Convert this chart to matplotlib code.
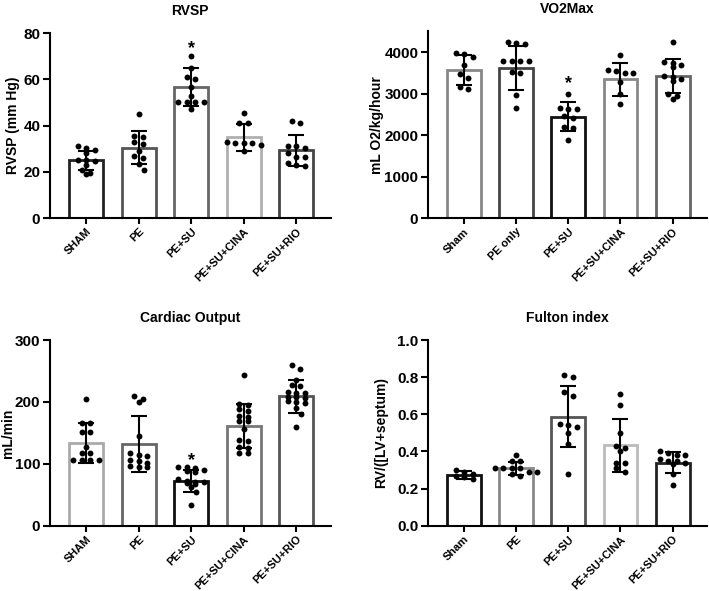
import numpy as np
import matplotlib
matplotlib.use("Agg")
import matplotlib.pyplot as plt

plt.rcParams["font.family"] = ["Liberation Sans", "DejaVu Sans"]
plt.rcParams["font.weight"] = "bold"
plt.rcParams["axes.labelweight"] = "bold"
plt.rcParams["axes.titleweight"] = "bold"

# ---- RVSP ----
rvsp_labels = ["SHAM", "PE", "PE+SU", "PE+SU+CINA", "PE+SU+RIO"]
rvsp_mean = [25, 30.5, 56.5, 35, 29.3]
rvsp_sd = [4.2, 7.0, 8.2, 5.8, 6.7]
rvsp_pts = [
    [31, 30.5, 29.5, 28, 25.3, 25.3, 24.8, 23, 21, 19, 19.5],
    [45, 35.5, 35, 33, 32, 29, 27, 26, 23.5, 21],
    [70, 65, 61, 60, 56.5, 53, 50, 50, 50, 50, 47],
    [45.5, 41, 41, 32.5, 32.5, 32.5, 33, 31.5, 29],
    [42, 41, 31, 31, 30.5, 28, 26.5, 26.5, 24, 22.5, 23],
]

# ---- VO2Max ----
vo2_labels = ["Sham", "PE only", "PE+SU", "PE+SU+CINA", "PE+SU+RIO"]
vo2_mean = [3570, 3610, 2440, 3340, 3430]
vo2_sd = [355, 530, 350, 390, 410]
vo2_pts = [
    [3970, 3960, 3880, 3680, 3470, 3380, 3150, 3100],
    [4250, 4230, 4190, 3780, 3780, 3780, 3780, 3520, 3490, 2970, 2650],
    [2980, 2660, 2640, 2620, 2470, 2420, 2200, 2170, 1870],
    [3920, 3560, 3550, 3500, 3490, 3280, 2980, 2740],
    [4240, 3760, 3730, 3700, 3650, 3420, 3400, 3350, 3300, 3000, 2930, 2870],
]

# ---- Cardiac Output ----
co_labels = ["SHAM", "PE", "PE+SU", "PE+SU+CINA", "PE+SU+RIO"]
co_mean = [134, 132, 72, 161, 209]
co_sd = [32, 45, 18, 35, 27]
co_pts = [
    [205, 166, 166, 151, 152, 128, 117, 118, 106, 106, 106, 106],
    [210, 205, 200, 145, 117, 115, 112, 106, 104, 102, 96, 95, 95],
    [95, 95, 94, 90, 88, 87, 76, 72, 70, 70, 69, 68, 62, 55, 33],
    [243, 196, 195, 188, 186, 177, 176, 170, 169, 157, 138, 137, 128, 126, 118, 117],
    [260, 254, 235, 227, 226, 216, 215, 214, 208, 206, 208, 200, 199, 201, 190, 180, 160],
]

# ---- Fulton index ----
fi_labels = ["Sham", "PE", "PE+SU", "PE+SU+CINA", "PE+SU+RIO"]
fi_mean = [0.275, 0.31, 0.587, 0.434, 0.34]
fi_sd = [0.022, 0.035, 0.165, 0.143, 0.055]
fi_pts = [
    [0.30, 0.29, 0.28, 0.27, 0.26, 0.25],
    [0.38, 0.35, 0.35, 0.31, 0.31, 0.31, 0.31, 0.29, 0.29, 0.28, 0.27],
    [0.80, 0.81, 0.72, 0.70, 0.55, 0.54, 0.53, 0.50, 0.44, 0.28],
    [0.71, 0.65, 0.50, 0.43, 0.42, 0.40, 0.34, 0.34, 0.31, 0.29],
    [0.40, 0.39, 0.38, 0.38, 0.36, 0.35, 0.35, 0.34, 0.33, 0.28, 0.22],
]


def swarm(ax, xc, ys, step, tol=4.0):
    # group points of (almost) equal height into rows and center each row
    tr = ax.transData
    ypx = np.array([tr.transform((xc, y))[1] for y in ys])
    pxx = tr.transform((xc + 1, 0))[0] - tr.transform((xc, 0))[0]
    order = np.argsort(-ypx)
    xs = np.zeros(len(ys))
    rows = []
    for i in order:
        if rows and abs(ypx[rows[-1][0]] - ypx[i]) < tol:
            rows[-1].append(i)
        else:
            rows.append([i])
    prev = None
    for row in rows:
        n = len(row)
        shift = 0.0
        # stagger single dots that sit right under another single dot
        if prev is not None and n == 1 and prev[1] == 1 and abs(prev[0] - ypx[row[0]]) < step * 0.8:
            shift = 0.6 if prev[2] <= 0 else -0.6
        for j, i in enumerate(row):
            xs[i] = xc + (j - (n - 1) / 2 + shift) * step / pxx
        prev = (ypx[row[0]], n, shift)
    return xs


def panel(rect, labels, means, sds, pts, edges, ylim, yticks, ylabel, title,
          labx, star=None, fmt=None):
    ax = fig.add_axes(rect)
    x = np.arange(len(labels))
    ax.set_xlim(-0.69, 4.66)
    ax.set_ylim(*ylim)
    ax.bar(x, means, 0.65, color="white", edgecolor=edges, linewidth=2, zorder=1)
    for i in range(len(labels)):
        xs = swarm(ax, x[i], pts[i], 8.5)
        ax.scatter(xs, pts[i], s=18, color="black", zorder=3, linewidths=0)
    ax.errorbar(x, means, yerr=sds, fmt="none", ecolor="black", elinewidth=1.5,
                capsize=6, capthick=1.5, zorder=4)
    if star is not None:
        ax.text(2, star, "*", ha="center", va="center", fontsize=13, zorder=5)
    ax.spines["top"].set_visible(False)
    ax.spines["right"].set_visible(False)
    for s in ["left", "bottom"]:
        ax.spines[s].set_linewidth(1.5)
    ax.set_yticks(yticks)
    if fmt:
        ax.set_yticklabels([fmt % v for v in yticks])
    ax.set_xticks(x)
    ax.set_xticklabels(labels, rotation=45, ha="right", rotation_mode="anchor",
                       fontsize=8)
    ax.tick_params(axis="y", labelsize=11, width=1.5, length=5, pad=2)
    ax.tick_params(axis="x", width=1.5, length=4, pad=2)
    ax.set_ylabel(ylabel, fontsize=10)
    ax.yaxis.set_label_coords(labx, 0.5)
    ax.set_title(title, fontsize=10, pad=13)
    return ax


fig = plt.figure(figsize=(7.09, 5.91), dpi=100)

panel([0.0705, 0.631, 0.396, 0.313], rvsp_labels, rvsp_mean, rvsp_sd, rvsp_pts,
      ["#222222", "#555555", "#666666", "#b0b0b0", "#444444"],
      (0, 80), [0, 20, 40, 60, 80], "RVSP (mm Hg)", "RVSP", -0.107, star=73.5)

panel([0.6037, 0.631, 0.3935, 0.316], vo2_labels, vo2_mean, vo2_sd, vo2_pts,
      ["#888888", "#444444", "#111111", "#888888", "#666666"],
      (0, 4500), [0, 1000, 2000, 3000, 4000], "mL O2/kg/hour", "VO2Max", -0.158,
      star=3240)

panel([0.0705, 0.1105, 0.396, 0.314], co_labels, co_mean, co_sd, co_pts,
      ["#aaaaaa", "#666666", "#111111", "#777777", "#555555"],
      (0, 300), [0, 100, 200, 300], "mL/min", "Cardiac Output", -0.125, star=105)

panel([0.6037, 0.1105, 0.3935, 0.314], fi_labels, fi_mean, fi_sd, fi_pts,
      ["#111111", "#888888", "#555555", "#bbbbbb", "#222222"],
      (0, 1.0), [0, 0.2, 0.4, 0.6, 0.8, 1.0], "RV/([LV+septum)", "Fulton index",
      -0.143, fmt="%.1f")

fig.savefig("out.png", dpi=100)
